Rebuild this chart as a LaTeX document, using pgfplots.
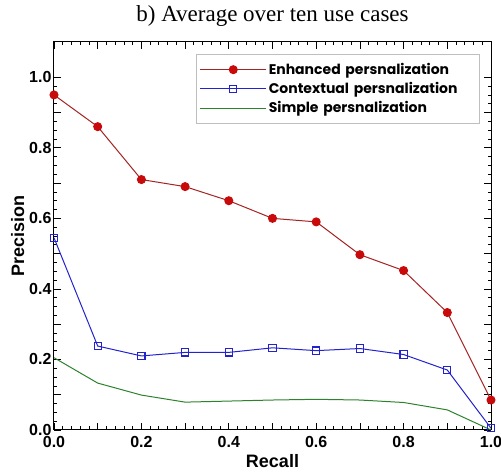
\documentclass[border=0pt]{standalone}
\usepackage{fontspec}
\setmainfont{Liberation Sans}
\newfontfamily\titlefont{Liberation Serif}
\newfontfamily\legfont{Poppins}
\usepackage{pgfplots}
\pgfplotsset{compat=1.18}
\definecolor{enhred}{RGB}{200,10,10}
\definecolor{enhline}{RGB}{165,35,35}
\definecolor{ctxblue}{RGB}{35,35,205}
\definecolor{simgreen}{RGB}{45,130,45}
\begin{document}
\begin{tikzpicture}
\begin{axis}[
  name=ax,
  scale only axis,
  width=437pt,
  height=388pt,
  xmin=0, xmax=1,
  ymin=0, ymax=1.1,
  clip=false,
  xtick={0,0.2,...,1.0},
  ytick={0,0.2,...,1.0},
  extra x ticks={0.1,0.3,0.5,0.7,0.9},
  extra x tick labels={},
  extra y ticks={0.1,0.3,0.5,0.7,0.9},
  extra y tick labels={},
  minor x tick num=9,
  minor y tick num=7,
  tick align=inside,
  major tick length=7pt,
  minor tick length=3.5pt,
  xticklabel style={/pgf/number format/fixed, /pgf/number format/fixed zerofill, /pgf/number format/precision=1, yshift=-3pt},
  yticklabel style={/pgf/number format/fixed, /pgf/number format/fixed zerofill, /pgf/number format/precision=1, xshift=1pt},
  /pgf/number format/assume math mode=true,
  tick label style={font=\fontsize{16}{16}\selectfont\bfseries},
  xlabel={Recall},
  ylabel={Precision},
  label style={font=\fontsize{18}{18}\selectfont\bfseries},
  xlabel style={yshift=0pt},
  ylabel style={yshift=-2pt},
  title={b) Average over ten use cases},
  title style={font=\fontsize{23}{23}\selectfont\titlefont, yshift=6pt},
  axis line style={black, line width=1pt},
  tick style={black, line width=0.8pt},
  legend style={at={(0.975,0.969)}, anchor=north east, draw=black!25, line width=0.6pt,
    font=\fontsize{14}{20}\selectfont\legfont\bfseries, row sep=2.5pt, inner xsep=3pt, inner ysep=7pt,
    nodes={text width=206pt, align=left}},
  legend cell align=left,
  legend image code/.code={\draw[mark repeat=2,mark phase=2,#1] plot coordinates {(0pt,0pt)(33pt,0pt)(66pt,0pt)};},
]
\addplot[color=enhline, line width=1pt, mark=*, mark size=4pt, mark options={fill=enhred, draw=enhred}] coordinates {
(0.0,0.95) (0.1,0.86) (0.2,0.71) (0.3,0.69) (0.4,0.65) (0.5,0.60)
(0.6,0.59) (0.7,0.497) (0.8,0.452) (0.9,0.333) (1.0,0.085)
};
\addlegendentry{Enhanced persnalization}
\addplot[color=ctxblue, line width=1pt, mark=square, mark size=3.6pt, mark options={fill=white, line width=1.1pt}] coordinates {
(0.0,0.545) (0.1,0.238) (0.2,0.21) (0.3,0.22) (0.4,0.22) (0.5,0.233)
(0.6,0.225) (0.7,0.231) (0.8,0.214) (0.9,0.17) (1.0,0.005)
};
\addlegendentry{Contextual persnalization}
\addplot[color=simgreen, line width=1pt] coordinates {
(0.0,0.205) (0.1,0.133) (0.2,0.099) (0.3,0.079) (0.4,0.082) (0.5,0.085)
(0.6,0.087) (0.7,0.085) (0.8,0.078) (0.9,0.057) (1.0,0.0)
};
\addlegendentry{Simple persnalization}
\end{axis}
\pgfresetboundingbox
\path (ax.south west) ++(-54pt,-44pt) rectangle ++(501pt,474pt);
\end{tikzpicture}
\end{document}
